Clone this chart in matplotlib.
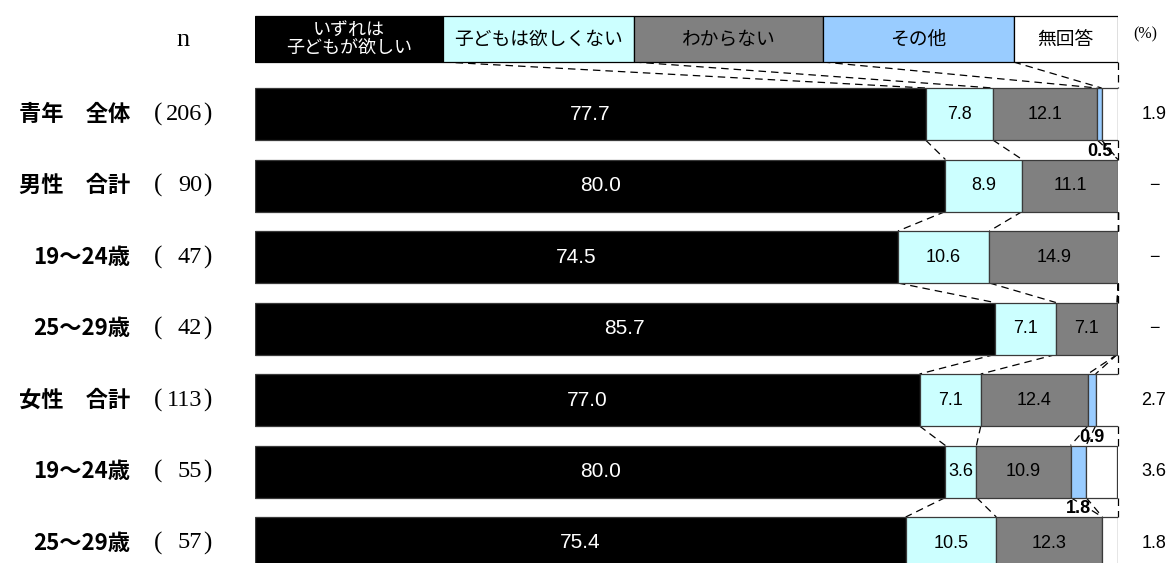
import matplotlib
matplotlib.use('Agg')
import matplotlib.pyplot as plt
import numpy as np

# ---------------- data ----------------
categories = ['いずれは\n子どもが欲しい', '子どもは欲しくない', 'わからない', 'その他', '無回答']
row_labels = ['青年　全体', '男性　合計', '19～24歳', '25～29歳', '女性　合計', '19～24歳', '25～29歳']
row_n = [206, 90, 47, 42, 113, 55, 57]
want = [77.7, 80.0, 74.5, 85.7, 77.0, 80.0, 75.4]
not_want = [7.8, 8.9, 10.6, 7.1, 7.1, 3.6, 10.5]
dont_know = [12.1, 11.1, 14.9, 7.1, 12.4, 10.9, 12.3]
other = [0.5, 0.0, 0.0, 0.0, 0.9, 1.8, 0.0]
no_answer = [1.9, 0.0, 0.0, 0.0, 2.7, 3.6, 1.8]

# header (legend) box widths in percent of bar length (layout)
header_widths = [21.8, 22.1, 21.9, 22.1, 12.1]

colors = ['#000000', '#CCFFFF', '#808080', '#99CCFF', '#FFFFFF']

JP = ['Noto Sans CJK JP', 'DejaVu Sans']
NUM = ['Liberation Sans', 'DejaVu Sans']
SERIF = ['Liberation Serif', 'DejaVu Serif']

W, H = 1171, 563
fig = plt.figure(figsize=(W / 100, H / 100), dpi=100)

# layout in pixel terms
x0_px, x1_px = 255, 1118
row0_px, pitch_px = 114, 71.5
bar_h = 52 / pitch_px
head_y = (39 - row0_px) / pitch_px
head_h = 46 / pitch_px

ax = fig.add_axes([x0_px / W, 0, (x1_px - x0_px) / W, 1])
ax.set_xlim(0, 100)
ax.set_ylim((H - row0_px) / pitch_px, (0 - row0_px) / pitch_px)
ax.axis('off')

def px2x(px):
    return (px - x0_px) / (x1_px - x0_px) * 100

def px2y(py):
    return (py - row0_px) / pitch_px

series = np.array([want, not_want, dont_know, other, no_answer])
nrows = series.shape[1]
ys = np.arange(nrows)

edge = '#3a3a3a'

# header boxes
hl = np.concatenate([[0], np.cumsum(header_widths)[:-1]])
ax.barh([head_y] * 5, header_widths, left=hl, height=head_h,
        color=colors, edgecolor='black', linewidth=0.9, zorder=3)
for i, cat in enumerate(categories):
    cx = hl[i] + header_widths[i] / 2
    if i == 0:
        ax.text(cx, head_y, cat, color='white', ha='center', va='center',
                fontsize=13, family=JP, linespacing=0.95, zorder=4)
    else:
        ax.text(cx, head_y, cat, color='black', ha='center', va='center',
                fontsize=13.5, family=JP, zorder=4)

# stacked bars
lefts = np.zeros(nrows)
for k in range(5):
    vals = series[k]
    mask = vals > 0
    ax.barh(ys[mask], vals[mask], left=lefts[mask], height=bar_h,
            color=colors[k], edgecolor=edge, linewidth=0.9, zorder=3)
    lefts = lefts + vals

# in-bar labels
cum = np.cumsum(series, axis=0)
starts = cum - series
for r in range(nrows):
    # black segment
    ax.text(starts[0, r] + series[0, r] / 2, r, f'{series[0, r]:.1f}',
            color='white', ha='center', va='center', fontsize=15, family=NUM, zorder=5)
    for k in (1, 2):
        if series[k, r] > 0:
            ax.text(starts[k, r] + series[k, r] / 2, r, f'{series[k, r]:.1f}',
                    color='black', ha='center', va='center', fontsize=13, family=NUM, zorder=5)
    if series[3, r] > 0:
        ax.text(starts[3, r] + series[3, r] / 2, r + 0.52, f'{series[3, r]:.1f}',
                color='black', ha='center', va='center', fontsize=13,
                fontweight='bold', family=NUM, zorder=6)
    # no answer on right
    txt = f'{series[4, r]:.1f}' if series[4, r] > 0 else '\u2212'
    ax.text(px2x(1154), r, txt, color='black', ha='center', va='center',
            fontsize=13, family=NUM, clip_on=False, zorder=5)

# connector dashed lines
dash = (0, (6, 4))
bounds = [np.concatenate([cum[:4, r], [100]]) for r in range(nrows)]
hb = np.cumsum(header_widths)
hb[-1] = 100
for b_top, b_bot in zip(hb, bounds[0]):
    ax.plot([b_top, b_bot], [head_y + head_h / 2, 0 - bar_h / 2],
            color='black', lw=0.9, ls=dash, zorder=2, clip_on=False)
for r in range(nrows - 1):
    for b_top, b_bot in zip(bounds[r], bounds[r + 1]):
        ax.plot([b_top, b_bot], [r + bar_h / 2, r + 1 - bar_h / 2],
                color='black', lw=0.9, ls=dash, zorder=2, clip_on=False)

# row labels
for r in range(nrows):
    ax.text(px2x(130), r, row_labels[r], ha='right', va='center', fontsize=16,
            fontweight='bold', family=JP, clip_on=False)
    ax.text(px2x(154), r, '(', ha='left', va='center', fontsize=18,
            family=SERIF, clip_on=False)
    ax.text(px2x(202), r, str(row_n[r]), ha='right', va='center', fontsize=17.5,
            family=SERIF, clip_on=False)
    ax.text(px2x(203), r, ')', ha='left', va='center', fontsize=18,
            family=SERIF, clip_on=False)

ax.text(px2x(183), px2y(40), 'n', ha='center', va='center', fontsize=19,
        family=SERIF, clip_on=False)
ax.text(px2x(1145), px2y(34), '(%)', ha='center', va='center', fontsize=11.5,
        family=SERIF, clip_on=False)

fig.savefig('out.png', dpi=100)
